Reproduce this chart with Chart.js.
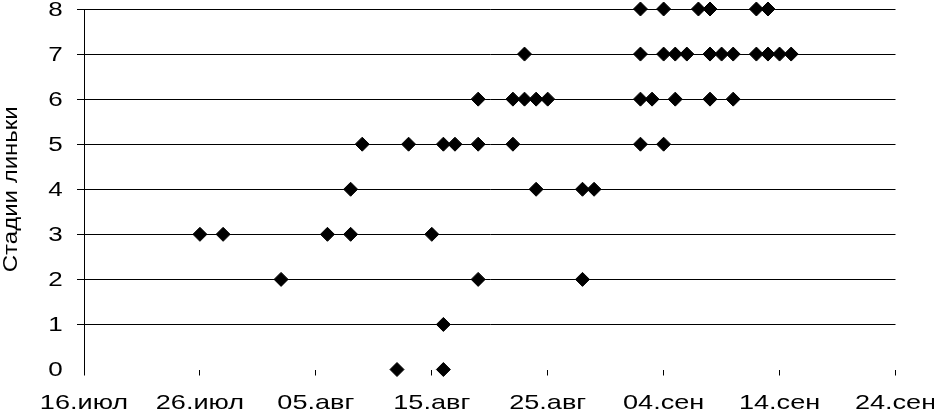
<!DOCTYPE html>
<html>
<head>
<meta charset="utf-8">
<script src="https://cdn.jsdelivr.net/npm/chart.js@4/dist/chart.umd.min.js"></script>
<style>
  html, body { margin: 0; padding: 0; background: #fff; }
  #wrap { width: 934px; height: 412px; position: relative; }
</style>
</head>
<body>
<div id="wrap"><canvas id="c" width="934" height="412"></canvas></div>
<script>
// Molt stage observations (dates as DD.MM)
const stage0 = ["12.08", "16.08"];
const stage1 = ["16.08"];
const stage2 = ["02.08", "19.08", "28.08"];
const stage3 = ["26.07", "28.07", "06.08", "08.08", "15.08"];
const stage4 = ["08.08", "24.08", "28.08", "29.08"];
const stage5 = ["09.08", "13.08", "16.08", "17.08", "19.08", "22.08", "02.09", "04.09"];
const stage6 = ["19.08", "22.08", "23.08", "24.08", "25.08", "02.09", "03.09", "05.09", "08.09", "10.09"];
const stage7 = ["23.08", "02.09", "04.09", "05.09", "06.09", "08.09", "09.09", "10.09", "12.09", "13.09", "14.09", "15.09"];
const stage8 = ["02.09", "04.09", "07.09", "08.09", "12.09", "13.09"];

const xTickLabels = ["16.июл", "26.июл", "05.авг", "15.авг", "25.авг", "04.сен", "14.сен", "24.сен"];
const yTickLabels = ["0", "1", "2", "3", "4", "5", "6", "7", "8"];
const yTitle = "Стадии линьки";

const stages = [stage0, stage1, stage2, stage3, stage4, stage5, stage6, stage7, stage8];

function dayOffset(s) {
  const [d, m] = s.split(".").map(Number);
  return (Date.UTC(2000, m - 1, d) - Date.UTC(2000, 6, 16)) / 86400000;
}

const points = [];
stages.forEach((arr, stage) => arr.forEach(dt => points.push({ x: dayOffset(dt), y: stage })));

const FONT = '"Liberation Sans", Arial, sans-serif';

const textPlugin = {
  id: 'stretchedText',
  afterDraw(chart) {
    const ctx = chart.ctx;
    const xs = chart.scales.x, ys = chart.scales.y;
    ctx.save();
    ctx.fillStyle = '#000';
    ctx.textBaseline = 'middle';
    ctx.textAlign = 'center';
    // x labels
    ctx.font = '21px ' + FONT;
    xs.ticks.forEach((t, i) => {
      const px = xs.getPixelForValue(t.value);
      ctx.save();
      ctx.translate(px, 403);
      ctx.scale(1.29, 1);
      ctx.fillText(xTickLabels[i], 0, 0);
      ctx.restore();
    });
    // y labels
    ctx.font = '20px ' + FONT;
    ys.ticks.forEach((t, i) => {
      const py = ys.getPixelForValue(t.value);
      ctx.save();
      ctx.translate(55.5, py + 1);
      ctx.scale(1.3, 1);
      ctx.fillText(yTickLabels[i], 0, 0);
      ctx.restore();
    });
    // y title
    ctx.save();
    ctx.translate(11, (chart.chartArea.top + chart.chartArea.bottom) / 2);
    ctx.rotate(-Math.PI / 2);
    ctx.scale(1.2, 1);
    ctx.fillText(yTitle, 0, 0);
    ctx.restore();
    ctx.restore();
  }
};

new Chart(document.getElementById('c'), {
  type: 'scatter',
  data: {
    datasets: [{
      data: points,
      pointStyle: 'rectRot',
      pointRadius: 7,
      pointBorderWidth: 1,
      pointBackgroundColor: '#000',
      pointBorderColor: '#000',
      pointHoverRadius: 7,
      showLine: false,
      clip: false
    }]
  },
  options: {
    responsive: false,
    animation: false,
    events: [],
    layout: { padding: { left: 77, top: 9, right: 38.5, bottom: 36.5 } },
    plugins: { legend: { display: false }, tooltip: { enabled: false } },
    scales: {
      x: {
        type: 'linear',
        min: 0, max: 70,
        ticks: { display: false, stepSize: 10 },
        grid: { drawOnChartArea: false, drawTicks: true, tickLength: 6, color: '#000', lineWidth: 1 },
        border: { display: false }
      },
      y: {
        min: 0, max: 8,
        ticks: { display: false, stepSize: 1 },
        grid: {
          drawTicks: true, tickLength: 7, lineWidth: 1,
          color: (c) => (c.tick && c.tick.value === 0) ? 'rgba(0,0,0,0)' : '#000'
        },
        border: { display: true, color: '#000', width: 1 }
      }
    }
  },
  plugins: [textPlugin]
});
</script>
</body>
</html>
